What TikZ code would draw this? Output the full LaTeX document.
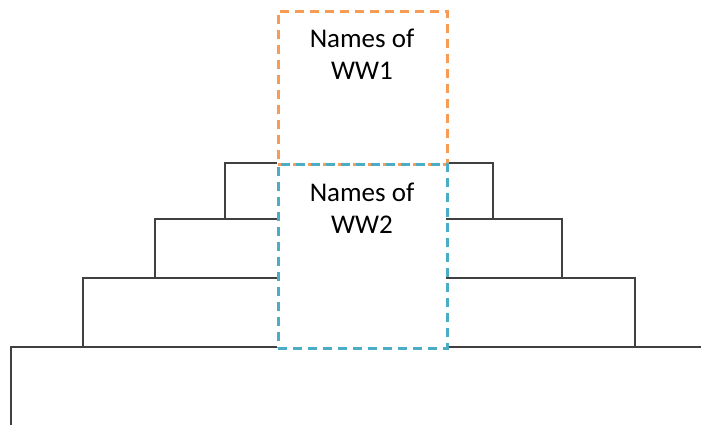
\documentclass[tikz,border=0pt]{standalone}
\usepackage{fontspec}
\setmainfont{Carlito}
\definecolor{wworange}{HTML}{F79B55}
\definecolor{wwblue}{HTML}{4BACC6}
\definecolor{treeline}{HTML}{404040}
\begin{document}
\begin{tikzpicture}[x=1pt,y=-1pt,
  namebox/.style={draw, line width=2.8pt, dash pattern=on 9pt off 6pt,
    minimum width=169pt, minimum height=#1, inner sep=0pt, anchor=north west},
  branch/.style={draw=treeline, line width=1.7pt},
  label/.style={font=\fontsize{27}{32}\selectfont, align=center, text=black}]
\useasboundingbox (0,0) rectangle (701,425);
% tree levels, from top to bottom
\coordinate (l1) at (225,163); \coordinate (r1) at (493,163);
\coordinate (l2) at (155,219); \coordinate (r2) at (562,219);
\coordinate (l3) at (83,278);  \coordinate (r3) at (635,278);
\coordinate (l4) at (11,347);  \coordinate (r4) at (701,347);
\coordinate (root) at (11,425);
% left side of the tree
\draw[branch] (277,163) -- (l1) -- (l1 |- l2);
\draw[branch] (277,219) -- (l2) -- (l2 |- l3);
\draw[branch] (277,278) -- (l3) -- (l3 |- l4);
\draw[branch] (277,347) -- (l4) -- (root);
% right side of the tree
\draw[branch] (446,163) -- (r1) -- (r1 |- r2);
\draw[branch] (446,219) -- (r2) -- (r2 |- r3);
\draw[branch] (446,278) -- (r3) -- (r3 |- r4);
\draw[branch] (446,347) -- (r4);
% name boxes
\node[namebox=153pt, draw=wworange] (ww1) at (277,10) {};
\node[namebox=184pt, draw=wwblue] (ww2) at (277,163) {};
\node[label] at (362,54) {Names of\\WW1};
\node[label] at (362,208) {Names of\\WW2};
\end{tikzpicture}
\end{document}
